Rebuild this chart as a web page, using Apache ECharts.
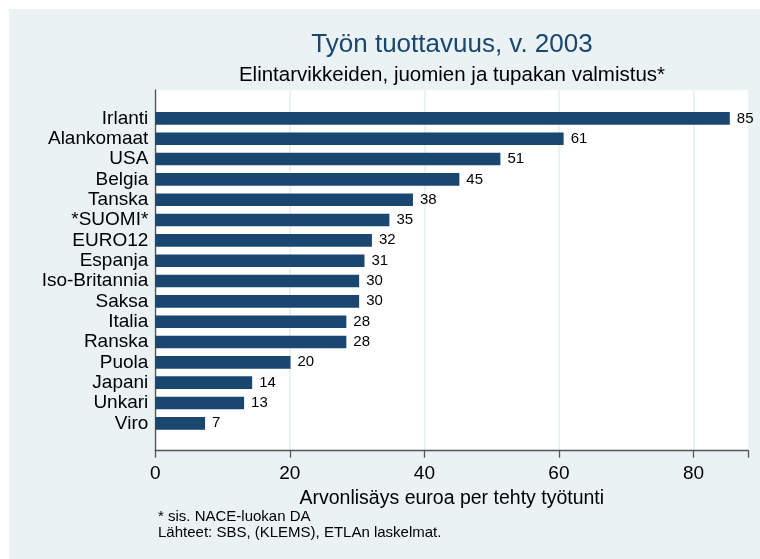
<!DOCTYPE html>
<html>
<head>
<meta charset="utf-8">
<script src="https://cdn.jsdelivr.net/npm/echarts@6/dist/echarts.min.js"></script>
<style>
    html, body { margin: 0; padding: 0; background: #fff; }
    #chart { width: 760px; height: 559px; }
</style>
</head>
<body>
<div id="chart"></div>
<script>
// maat ylhäältä alas
var maat = ['Irlanti', 'Alankomaat', 'USA', 'Belgia', 'Tanska', '*SUOMI*', 'EURO12', 'Espanja',
    'Iso-Britannia', 'Saksa', 'Italia', 'Ranska', 'Puola', 'Japani', 'Unkari', 'Viro'];
// arvonlisäys euroa per tehty työtunti
var tuottavuus = [85.4, 60.7, 51.3, 45.2, 38.3, 34.8, 32.2, 31.1, 30.3, 30.3, 28.4, 28.4, 20.1, 14.4, 13.2, 7.4];
var xTicks = [0, 20, 40, 60, 80];

var otsikko = 'Työn tuottavuus, v. 2003';
var alaotsikko = 'Elintarvikkeiden, juomien ja tupakan valmistus*';
var akselinNimi = 'Arvonlisäys euroa per tehty työtunti';
var huomautus = ['* sis. NACE-luokan DA', 'Lähteet: SBS, (KLEMS), ETLAn laskelmat.'];

var fontti = '"Liberation Sans", Arial, sans-serif';
var navy = '#1a476f';
var tausta = '#eaf2f3';
var xMax = 88.15;

var chart = echarts.init(document.getElementById('chart'), null, { renderer: 'canvas' });

var option = {
    backgroundColor: '#fff',
    animation: false,
    textStyle: { fontFamily: fontti, color: '#000' },
    graphic: [
        {
            type: 'rect', z: -10, silent: true,
            shape: { x: 9, y: 9, width: 760, height: 560 },
            style: { fill: tausta }
        },
        {
            type: 'text', silent: true,
            style: { x: 452, y: 45, text: otsikko, fill: navy, font: '26px ' + fontti, textAlign: 'center', textVerticalAlign: 'middle' }
        },
        {
            type: 'text', silent: true,
            style: { x: 452, y: 75, text: alaotsikko, fill: '#000', font: '20.5px ' + fontti, textAlign: 'center', textVerticalAlign: 'middle' }
        },
        {
            type: 'text', silent: true,
            style: { x: 158, y: 509, text: huomautus[0], fill: '#000', font: '15px ' + fontti, textAlign: 'left', textVerticalAlign: 'top' }
        },
        {
            type: 'text', silent: true,
            style: { x: 158, y: 525, text: huomautus[1], fill: '#000', font: '15px ' + fontti, textAlign: 'left', textVerticalAlign: 'top' }
        }
    ],
    grid: [
        { left: 155.3, right: 11.7, top: 90, bottom: 108.3, show: true, backgroundColor: '#fff', borderWidth: 0 },
        { left: 155.3, right: 11.7, top: 108.2, bottom: 125.5 }
    ],
    xAxis: [
        {
            gridIndex: 0, type: 'value', min: 0, max: xMax, interval: 20,
            axisLine: { show: true, lineStyle: { color: '#555', width: 1.3 } },
            axisTick: { show: true, length: 7, lineStyle: { color: '#555', width: 1.3 } },
            axisLabel: {
                fontSize: 19, color: '#000', margin: 14,
                formatter: function (v) { return xTicks.indexOf(v) >= 0 ? String(v) : ''; }
            },
            splitLine: { show: true, lineStyle: { color: tausta, width: 2 } },
            name: akselinNimi, nameLocation: 'middle', nameGap: 31,
            nameTextStyle: { fontSize: 19.5, color: '#000' }
        },
        { gridIndex: 1, type: 'value', min: 0, max: xMax, show: false }
    ],
    yAxis: [
        {
            gridIndex: 0, type: 'value', min: 0, max: 1,
            axisLine: { show: true, lineStyle: { color: '#555', width: 1.3 } },
            axisTick: { show: false }, axisLabel: { show: false }, splitLine: { show: false }
        },
        {
            gridIndex: 1, type: 'category', data: maat, inverse: true,
            axisLine: { show: false }, axisTick: { show: false }, splitLine: { show: false },
            axisLabel: { fontSize: 19, color: '#000', margin: 7, interval: 0 }
        }
    ],
    series: [{
        type: 'bar',
        xAxisIndex: 1, yAxisIndex: 1,
        data: tuottavuus,
        barWidth: 12.6,
        itemStyle: { color: navy },
        label: {
            show: true, position: 'right', distance: 7,
            fontSize: 15, color: '#000',
            formatter: function (p) { return Math.round(p.value); }
        }
    }]
};

chart.setOption(option);
</script>
</body>
</html>
